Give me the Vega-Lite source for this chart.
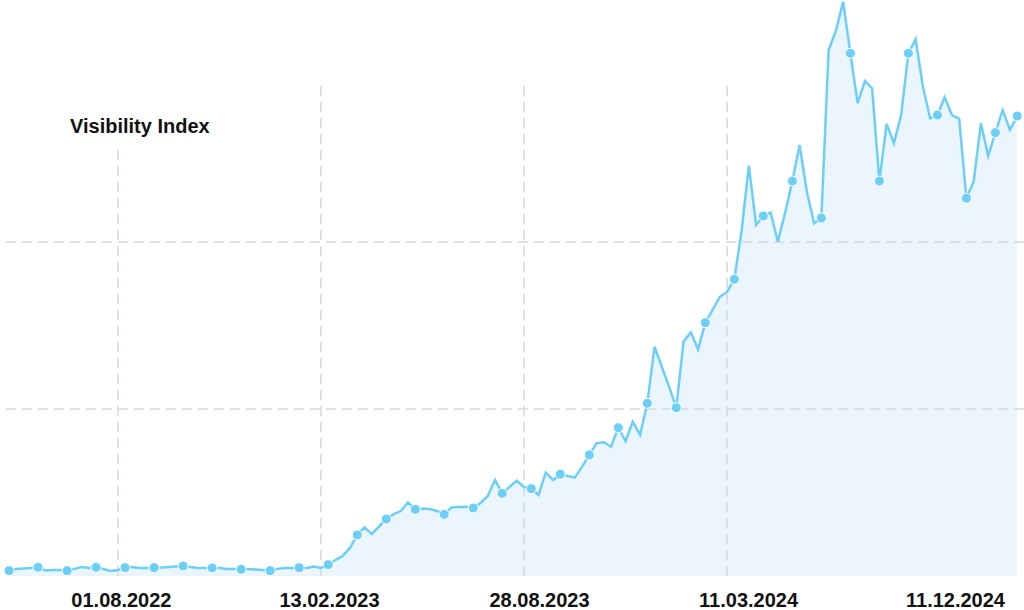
{
  "$schema": "https://vega.github.io/schema/vega-lite/v6.json",
  "width": 1024,
  "height": 576,
  "autosize": "none",
  "padding": {"left": 0, "top": 0, "right": 0, "bottom": 34},
  "background": "white",
  "config": {"view": {"stroke": null}},
  "datasets": {
    "vis": [
      {"date":"2022-04-18","v":0.032},{"date":"2022-04-25","v":0.042},{"date":"2022-05-02","v":0.045},{"date":"2022-05-09","v":0.048},
      {"date":"2022-05-16","v":0.052},{"date":"2022-05-23","v":0.033},{"date":"2022-05-30","v":0.036},{"date":"2022-06-06","v":0.036},
      {"date":"2022-06-13","v":0.032},{"date":"2022-06-20","v":0.042},{"date":"2022-06-27","v":0.054},{"date":"2022-07-04","v":0.048},
      {"date":"2022-07-11","v":0.052},{"date":"2022-07-18","v":0.042},{"date":"2022-07-25","v":0.030},{"date":"2022-08-01","v":0.036},
      {"date":"2022-08-08","v":0.050},{"date":"2022-08-15","v":0.054},{"date":"2022-08-22","v":0.048},{"date":"2022-08-29","v":0.048},
      {"date":"2022-09-05","v":0.050},{"date":"2022-09-12","v":0.051},{"date":"2022-09-19","v":0.054},{"date":"2022-09-26","v":0.057},
      {"date":"2022-10-03","v":0.060},{"date":"2022-10-10","v":0.054},{"date":"2022-10-17","v":0.048},{"date":"2022-10-24","v":0.048},
      {"date":"2022-10-31","v":0.048},{"date":"2022-11-07","v":0.048},{"date":"2022-11-14","v":0.042},{"date":"2022-11-21","v":0.042},
      {"date":"2022-11-28","v":0.040},{"date":"2022-12-05","v":0.042},{"date":"2022-12-12","v":0.039},{"date":"2022-12-19","v":0.036},
      {"date":"2022-12-26","v":0.032},{"date":"2023-01-02","v":0.042},{"date":"2023-01-09","v":0.048},{"date":"2023-01-16","v":0.048},
      {"date":"2023-01-23","v":0.050},{"date":"2023-01-30","v":0.048},{"date":"2023-02-06","v":0.057},{"date":"2023-02-13","v":0.048},
      {"date":"2023-02-20","v":0.068},{"date":"2023-02-27","v":0.096},{"date":"2023-03-06","v":0.120},{"date":"2023-03-13","v":0.168},
      {"date":"2023-03-20","v":0.246},{"date":"2023-03-27","v":0.292},{"date":"2023-04-03","v":0.251},{"date":"2023-04-10","v":0.296},
      {"date":"2023-04-17","v":0.341},{"date":"2023-04-24","v":0.369},{"date":"2023-05-01","v":0.389},{"date":"2023-05-08","v":0.441},
      {"date":"2023-05-15","v":0.399},{"date":"2023-05-22","v":0.404},{"date":"2023-05-29","v":0.401},{"date":"2023-06-05","v":0.389},
      {"date":"2023-06-12","v":0.369},{"date":"2023-06-19","v":0.411},{"date":"2023-06-26","v":0.413},{"date":"2023-07-03","v":0.415},
      {"date":"2023-07-10","v":0.407},{"date":"2023-07-17","v":0.437},{"date":"2023-07-24","v":0.479},{"date":"2023-07-31","v":0.575},
      {"date":"2023-08-07","v":0.495},{"date":"2023-08-14","v":0.533},{"date":"2023-08-21","v":0.571},{"date":"2023-08-28","v":0.533},
      {"date":"2023-09-04","v":0.523},{"date":"2023-09-11","v":0.485},{"date":"2023-09-18","v":0.619},{"date":"2023-09-25","v":0.575},
      {"date":"2023-10-02","v":0.609},{"date":"2023-10-09","v":0.599},{"date":"2023-10-16","v":0.589},{"date":"2023-10-23","v":0.653},
      {"date":"2023-10-30","v":0.725},{"date":"2023-11-06","v":0.796},{"date":"2023-11-13","v":0.801},{"date":"2023-11-20","v":0.774},
      {"date":"2023-11-27","v":0.888},{"date":"2023-12-04","v":0.808},{"date":"2023-12-11","v":0.924},{"date":"2023-12-18","v":0.844},
      {"date":"2023-12-25","v":1.034},{"date":"2024-01-01","v":1.373},{"date":"2024-01-08","v":1.253},{"date":"2024-01-15","v":1.132},
      {"date":"2024-01-22","v":1.008},{"date":"2024-01-29","v":1.403},{"date":"2024-02-05","v":1.459},{"date":"2024-02-12","v":1.357},
      {"date":"2024-02-19","v":1.517},{"date":"2024-02-26","v":1.593},{"date":"2024-03-04","v":1.672},{"date":"2024-03-11","v":1.701},
      {"date":"2024-03-18","v":1.777},{"date":"2024-03-25","v":2.066},{"date":"2024-04-01","v":2.457},{"date":"2024-04-08","v":2.102},
      {"date":"2024-04-15","v":2.156},{"date":"2024-04-22","v":2.176},{"date":"2024-04-29","v":2.002},{"date":"2024-05-06","v":2.174},
      {"date":"2024-05-13","v":2.365},{"date":"2024-05-20","v":2.581},{"date":"2024-05-27","v":2.301},{"date":"2024-06-03","v":2.112},
      {"date":"2024-06-10","v":2.144},{"date":"2024-06-17","v":3.150},{"date":"2024-06-24","v":3.263},{"date":"2024-07-01","v":3.439},
      {"date":"2024-07-08","v":3.130},{"date":"2024-07-15","v":2.831},{"date":"2024-07-22","v":2.964},{"date":"2024-07-29","v":2.920},
      {"date":"2024-08-05","v":2.365},{"date":"2024-08-12","v":2.707},{"date":"2024-08-19","v":2.591},{"date":"2024-08-26","v":2.760},
      {"date":"2024-09-02","v":3.130},{"date":"2024-09-09","v":3.214},{"date":"2024-09-16","v":2.930},{"date":"2024-09-23","v":2.741},
      {"date":"2024-09-30","v":2.760},{"date":"2024-10-07","v":2.866},{"date":"2024-10-14","v":2.760},{"date":"2024-10-21","v":2.737},
      {"date":"2024-10-28","v":2.262},{"date":"2024-11-04","v":2.361},{"date":"2024-11-11","v":2.711},{"date":"2024-11-18","v":2.515},
      {"date":"2024-11-25","v":2.655},{"date":"2024-12-02","v":2.790},{"date":"2024-12-09","v":2.671},{"date":"2024-12-16","v":2.754}
    ]
  },
  "layer": [
    {
      "data": {"name": "vis"},
      "mark": {"type": "area", "color": "#eaf5fe", "opacity": 1},
      "encoding": {
        "x": {"field": "date", "type": "temporal",
          "scale": {"type": "utc", "domain": [{"year": 2022, "month": 4, "date": 9, "hours": 5, "utc": true}, {"year": 2024, "month": 12, "date": 22, "hours": 14, "utc": true}], "nice": false},
          "axis": {"title": null, "grid": false, "domain": false, "ticks": false, "values": [1659312000000, 1676246400000, 1693180800000, 1710115200000, 1733875200000], "format": "%d.%m.%Y", "labelFont": "Liberation Sans", "labelFontSize": 20, "labelFontWeight": "bold", "labelColor": "#111111", "labelPadding": 14, "labelOverlap": false, "labelFlush": false,
            "labelOffset": {"condition": [{"test": "time(datum.value) == 1659312000000", "value": 3}, {"test": "time(datum.value) == 1676246400000", "value": 8}, {"test": "time(datum.value) == 1693180800000", "value": 15}, {"test": "time(datum.value) == 1710115200000", "value": 21}], "value": -57}}},
        "y": {"field": "v", "type": "quantitative", "scale": {"domain": [0, 3.449], "nice": false, "zero": true}, "axis": null}
      }
    },
    {
      "data": {"values": [{"v": 1}, {"v": 2}]},
      "mark": {"type": "rule", "color": "#d3d9de", "strokeWidth": 1.5, "strokeDash": [10, 6]},
      "encoding": {
        "y": {"field": "v", "type": "quantitative", "scale": {"domain": [0, 3.449], "nice": false, "zero": true}, "axis": null}
      }
    },
    {
      "data": {"values": [{"date": "2023-02-13"}, {"date": "2023-08-28"}, {"date": "2024-03-11"}]},
      "mark": {"type": "rule", "color": "#d3d9de", "strokeWidth": 1.5, "strokeDash": [10, 6]},
      "encoding": {
        "x": {"field": "date", "type": "temporal",
          "scale": {"type": "utc", "domain": [{"year": 2022, "month": 4, "date": 9, "hours": 5, "utc": true}, {"year": 2024, "month": 12, "date": 22, "hours": 14, "utc": true}], "nice": false},
          "axis": {"title": null, "grid": false, "domain": false, "ticks": false, "values": [1659312000000, 1676246400000, 1693180800000, 1710115200000, 1733875200000], "format": "%d.%m.%Y", "labelFont": "Liberation Sans", "labelFontSize": 20, "labelFontWeight": "bold", "labelColor": "#111111", "labelPadding": 14, "labelOverlap": false, "labelFlush": false,
            "labelOffset": {"condition": [{"test": "time(datum.value) == 1659312000000", "value": 3}, {"test": "time(datum.value) == 1676246400000", "value": 8}, {"test": "time(datum.value) == 1693180800000", "value": 15}, {"test": "time(datum.value) == 1710115200000", "value": 21}], "value": -57}}},
        "y": {"datum": 0, "type": "quantitative", "scale": {"domain": [0, 3.449], "nice": false, "zero": true}, "axis": null},
        "y2": {"datum": 2.958}
      }
    },
    {
      "data": {"values": [{"date": "2022-08-01"}]},
      "mark": {"type": "rule", "color": "#d3d9de", "strokeWidth": 1.5, "strokeDash": [10, 6]},
      "encoding": {
        "x": {"field": "date", "type": "temporal",
          "scale": {"type": "utc", "domain": [{"year": 2022, "month": 4, "date": 9, "hours": 5, "utc": true}, {"year": 2024, "month": 12, "date": 22, "hours": 14, "utc": true}], "nice": false},
          "axis": {"title": null, "grid": false, "domain": false, "ticks": false, "values": [1659312000000, 1676246400000, 1693180800000, 1710115200000, 1733875200000], "format": "%d.%m.%Y", "labelFont": "Liberation Sans", "labelFontSize": 20, "labelFontWeight": "bold", "labelColor": "#111111", "labelPadding": 14, "labelOverlap": false, "labelFlush": false,
            "labelOffset": {"condition": [{"test": "time(datum.value) == 1659312000000", "value": 3}, {"test": "time(datum.value) == 1676246400000", "value": 8}, {"test": "time(datum.value) == 1693180800000", "value": 15}, {"test": "time(datum.value) == 1710115200000", "value": 21}], "value": -57}}},
        "y": {"datum": 0, "type": "quantitative", "scale": {"domain": [0, 3.449], "nice": false, "zero": true}, "axis": null},
        "y2": {"datum": 2.58}
      }
    },
    {
      "data": {"name": "vis"},
      "mark": {"type": "line", "color": "#6dcff6", "strokeWidth": 2.5},
      "encoding": {
        "x": {"field": "date", "type": "temporal",
          "scale": {"type": "utc", "domain": [{"year": 2022, "month": 4, "date": 9, "hours": 5, "utc": true}, {"year": 2024, "month": 12, "date": 22, "hours": 14, "utc": true}], "nice": false},
          "axis": {"title": null, "grid": false, "domain": false, "ticks": false, "values": [1659312000000, 1676246400000, 1693180800000, 1710115200000, 1733875200000], "format": "%d.%m.%Y", "labelFont": "Liberation Sans", "labelFontSize": 20, "labelFontWeight": "bold", "labelColor": "#111111", "labelPadding": 14, "labelOverlap": false, "labelFlush": false,
            "labelOffset": {"condition": [{"test": "time(datum.value) == 1659312000000", "value": 3}, {"test": "time(datum.value) == 1676246400000", "value": 8}, {"test": "time(datum.value) == 1693180800000", "value": 15}, {"test": "time(datum.value) == 1710115200000", "value": 21}], "value": -57}}},
        "y": {"field": "v", "type": "quantitative", "scale": {"domain": [0, 3.449], "nice": false, "zero": true}, "axis": null}
      }
    },
    {
      "data": {"name": "vis"},
      "transform": [
        {"window": [{"op": "row_number", "as": "n"}], "sort": [{"field": "date"}]},
        {"filter": "(datum.n - 1) % 4 == 0 || datum.n == 140"}
      ],
      "mark": {"type": "circle", "size": 100, "color": "#6dcff6", "opacity": 1, "stroke": "white", "strokeWidth": 1},
      "encoding": {
        "x": {"field": "date", "type": "temporal",
          "scale": {"type": "utc", "domain": [{"year": 2022, "month": 4, "date": 9, "hours": 5, "utc": true}, {"year": 2024, "month": 12, "date": 22, "hours": 14, "utc": true}], "nice": false},
          "axis": {"title": null, "grid": false, "domain": false, "ticks": false, "values": [1659312000000, 1676246400000, 1693180800000, 1710115200000, 1733875200000], "format": "%d.%m.%Y", "labelFont": "Liberation Sans", "labelFontSize": 20, "labelFontWeight": "bold", "labelColor": "#111111", "labelPadding": 14, "labelOverlap": false, "labelFlush": false,
            "labelOffset": {"condition": [{"test": "time(datum.value) == 1659312000000", "value": 3}, {"test": "time(datum.value) == 1676246400000", "value": 8}, {"test": "time(datum.value) == 1693180800000", "value": 15}, {"test": "time(datum.value) == 1710115200000", "value": 21}], "value": -57}}},
        "y": {"field": "v", "type": "quantitative", "scale": {"domain": [0, 3.449], "nice": false, "zero": true}, "axis": null}
      }
    },
    {
      "data": {"values": [{"t": "Visibility Index", "date": "2022-06-15T19:00:00Z", "v": 2.653}]},
      "mark": {"type": "text", "font": "Liberation Sans", "fontSize": 20, "fontWeight": "bold", "color": "#111111", "align": "left", "baseline": "alphabetic"},
      "encoding": {
        "text": {"field": "t"},
        "x": {"field": "date", "type": "temporal",
          "scale": {"type": "utc", "domain": [{"year": 2022, "month": 4, "date": 9, "hours": 5, "utc": true}, {"year": 2024, "month": 12, "date": 22, "hours": 14, "utc": true}], "nice": false},
          "axis": {"title": null, "grid": false, "domain": false, "ticks": false, "values": [1659312000000, 1676246400000, 1693180800000, 1710115200000, 1733875200000], "format": "%d.%m.%Y", "labelFont": "Liberation Sans", "labelFontSize": 20, "labelFontWeight": "bold", "labelColor": "#111111", "labelPadding": 14, "labelOverlap": false, "labelFlush": false,
            "labelOffset": {"condition": [{"test": "time(datum.value) == 1659312000000", "value": 3}, {"test": "time(datum.value) == 1676246400000", "value": 8}, {"test": "time(datum.value) == 1693180800000", "value": 15}, {"test": "time(datum.value) == 1710115200000", "value": 21}], "value": -57}}},
        "y": {"field": "v", "type": "quantitative", "scale": {"domain": [0, 3.449], "nice": false, "zero": true}, "axis": null}
      }
    }
  ]
}
